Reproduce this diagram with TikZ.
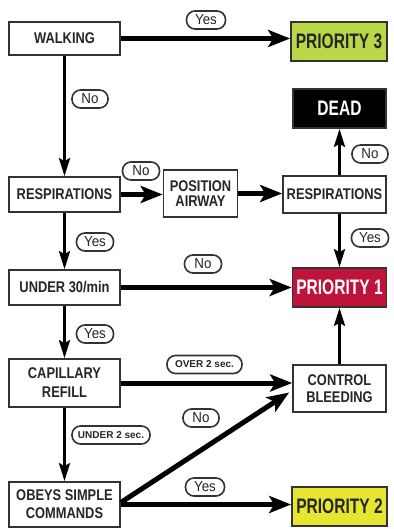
\documentclass[tikz,border=0pt]{standalone}
\usepackage{fontspec}
\setmainfont{Liberation Sans}
\newfontfamily\boxfont{Liberation Sans}[FakeStretch=0.83]
\newfontfamily\priofont{Liberation Sans}[FakeStretch=0.74]
\newfontfamily\lblfont{Liberation Sans}[FakeStretch=0.92]
\usetikzlibrary{arrows.meta,calc}
\definecolor{txt}{HTML}{262626}
\definecolor{bord}{HTML}{333333}
\definecolor{pthree}{HTML}{B9D746}
\definecolor{ptwo}{HTML}{E6E632}
\definecolor{pone}{HTML}{BE143C}
\tikzset{
  stepbox/.style={draw=bord, line width=1.7pt, fill=white, text=txt, align=center,
    inner sep=0pt, font=\boxfont\bfseries\fontsize{15.5}{18}\selectfont},
  priobox/.style={draw=bord, line width=1.7pt, text=txt, inner sep=0pt,
    font=\priofont\bfseries\fontsize{21}{24}\selectfont},
  lbl/.style={draw=bord, line width=1.6pt, rounded corners=8.5pt, fill=white, text=txt,
    inner sep=0pt, minimum height=18pt, font=\lblfont\fontsize{14.5}{15}\selectfont},
  slbl/.style={draw=bord, line width=1.6pt, rounded corners=8.5pt, fill=white, text=txt,
    inner sep=0pt, minimum height=18pt, font=\bfseries\fontsize{10}{12}\selectfont},
  harr/.style={line width=5pt, draw=black, -{Stealth[length=22pt,width=17pt,inset=5pt]}},
  varr/.style={line width=3pt, draw=black, -{Stealth[length=18pt,width=11pt,inset=3pt]}}
}
\begin{document}
\begin{tikzpicture}[x=1pt,y=-1pt]
\useasboundingbox[fill=white] (0,0) rectangle (393,529);

% nodes
\node[stepbox, minimum width=111pt, minimum height=33pt] (walk) at (64.5,38.5) {WALKING};
\node[priobox, fill=pthree, minimum width=96pt, minimum height=39pt] (p3) at (339,41.5) {PRIORITY 3};
\node[priobox, fill=black, text=white, minimum width=93pt, minimum height=39pt] (dead) at (339.5,108.5) {DEAD};
\node[stepbox, minimum width=111pt, minimum height=35pt] (resp1) at (64.5,194.5) {RESPIRATIONS};
\node[stepbox, minimum width=74pt, minimum height=47pt, font=\boxfont\bfseries\fontsize{15.5}{15}\selectfont] (airway) at (200.5,193.5) {POSITION\\AIRWAY};
\node[stepbox, minimum width=103pt, minimum height=37pt] (resp2) at (334.5,194.5) {RESPIRATIONS};
\node[stepbox, minimum width=111pt, minimum height=35pt] (under) at (64.5,287.5) {UNDER 30/min};
\node[priobox, fill=pone, text=white, minimum width=94pt, minimum height=39pt] (p1) at (339.5,287.5) {PRIORITY 1};
\node[stepbox, minimum width=111pt, minimum height=48pt, font=\boxfont\bfseries\fontsize{15.5}{19}\selectfont] (cap) at (64.5,383) {CAPILLARY\\REFILL};
\node[stepbox, minimum width=93pt, minimum height=47pt, font=\boxfont\bfseries\fontsize{15.5}{17}\selectfont] (bleed) at (339.5,388.5) {CONTROL\\BLEEDING};
\node[stepbox, minimum width=111pt, minimum height=45pt, font=\boxfont\bfseries\fontsize{15.5}{18}\selectfont] (obeys) at (64.5,504.5) {OBEYS SIMPLE\\COMMANDS};
\node[priobox, fill=ptwo, minimum width=95pt, minimum height=39pt] (p2) at (339.5,506.5) {PRIORITY 2};

% connectors
\draw[harr] (walk.east) -- (walk.east -| p3.west);
\draw[varr] (walk.south) -- (resp1.north);
\draw[harr] (resp1.east) -- (resp1.east -| airway.west);
\draw[harr] (airway.east) -- (airway.east -| resp2.west);
\draw[varr] (dead.south |- resp2.north) -- (dead.south);
\draw[varr] (p1.north |- resp2.south) -- (p1.north);
\draw[varr] (resp1.south) -- (under.north);
\draw[harr] (under.east) -- (p1.west);
\draw[varr] (under.south) -- (cap.north);
\draw[harr] (cap.east) -- (cap.east -| bleed.west);
\draw[varr] (bleed.north) -- (p1.south);
\draw[varr] (cap.south) -- (obeys.north);
\draw[harr] ($(obeys.east)+(0,-2)$) -- ($(bleed.west)+(-3,4)$);
\draw[harr] (obeys.east) -- (obeys.east -| p2.west);

% labels
\node[lbl, minimum width=39pt] (l1) at (206,20) {Yes};
\node[lbl, minimum width=36pt] (l2) at (90,99) {No};
\node[lbl, minimum width=37pt] (l3) at (141,171) {No};
\node[lbl, minimum width=36pt] (l4) at (370,154) {No};
\node[lbl, minimum width=37pt] (l5) at (95,242) {Yes};
\node[lbl, minimum width=37pt] (l6) at (370,238) {Yes};
\node[lbl, minimum width=37pt] (l7) at (203,264) {No};
\node[lbl, minimum width=37pt] (l8) at (95,334) {Yes};
\node[slbl, minimum width=75pt] (l9) at (204.5,364.5) {OVER 2 sec.};
\node[slbl, minimum width=78pt] (l10) at (111,435) {UNDER 2 sec.};
\node[lbl, minimum width=36pt] (l11) at (201,418) {No};
\node[lbl, minimum width=39pt] (l12) at (205,487) {Yes};
\end{tikzpicture}
\end{document}
